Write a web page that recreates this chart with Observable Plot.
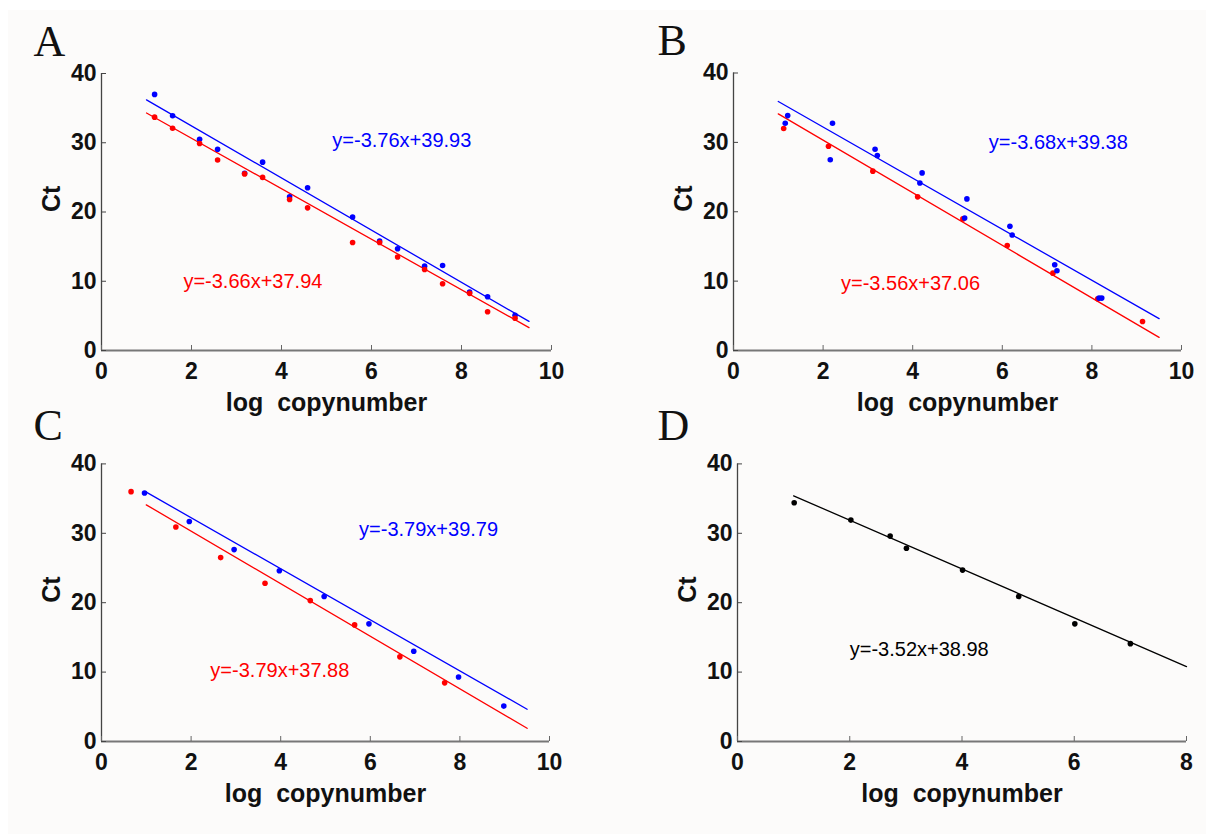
<!DOCTYPE html>
<html><head><meta charset="utf-8">
<script src="https://cdn.jsdelivr.net/npm/d3@7"></script>
<script src="https://cdn.jsdelivr.net/npm/@observablehq/plot@0.6"></script>
<style>
body{margin:0;background:#fff;}
#wrap{position:relative;width:1206px;height:834px;overflow:hidden;}
#bg{position:absolute;left:8px;top:10px;right:0;bottom:0;background:#fcfbfa;}
#wrap svg{position:absolute;overflow:visible;}
#wrap svg text{white-space:pre;}
#wrap svg g[aria-label="x-axis tick label"], #wrap svg g[aria-label="y-axis tick label"]{font-size:23px;font-weight:bold;}
</style></head><body><div id="wrap"><div id="bg"></div></div>
<script>
// ---- tick labels ----
const xTicks10 = [0, 2, 4, 6, 8, 10];
const xTicks8 = [0, 2, 4, 6, 8];
const yTicks = [0, 10, 20, 30, 40];
const panelLetters = ["A", "B", "C", "D"];
const xLabel = "log  copynumber";
const yLabel = "Ct";

// ---- Panel A ----
const aX = [1.18, 1.58, 2.18, 2.58, 3.18, 3.58, 4.18, 4.58, 5.58, 6.18, 6.58, 7.18, 7.58, 8.18, 8.58, 9.19];
const aBlue = [36.98, 33.9, 30.5, 29.07, 25.6, 27.2, 22.2, 23.5, 19.28, 15.8, 14.7, 12.18, 12.28, 8.44, 7.77, 5.1];
const aRed = [33.7, 32.1, 29.9, 27.5, 25.5, 25.0, 21.8, 20.6, 15.6, 15.6, 13.5, 11.7, 9.64, 8.25, 5.6, 4.65];
const aFitBlue = [[1.0, 36.2], [9.5, 4.2]];
const aFitRed = [[1.0, 34.3], [9.5, 3.3]];
const aEqs = [
  {text: "y=-3.76x+39.93", x: 5.13, y: 30.3, color: "blue"},
  {text: "y=-3.66x+37.94", x: 1.82, y: 10.0, color: "red"}
];

// ---- Panel B ----
const bBlueX = [1.155, 1.21, 2.16, 2.21, 3.16, 3.21, 4.16, 4.21, 5.16, 5.21, 6.17, 6.22, 7.17, 7.22, 8.16, 8.22];
const bBlueY = [32.75, 33.86, 27.5, 32.75, 29.0, 28.1, 24.15, 25.6, 19.1, 21.85, 17.9, 16.65, 12.35, 11.5, 7.55, 7.55];
const bRedX = [1.12, 2.12, 3.11, 4.11, 5.12, 6.11, 7.13, 8.13, 9.13];
const bRedY = [32.0, 29.45, 25.85, 22.15, 18.97, 15.13, 11.15, 7.45, 4.18];
const bFitBlue = [[1.0, 35.9], [9.5, 4.6]];
const bFitRed = [[1.0, 34.1], [9.5, 1.9]];
const bEqs = [
  {text: "y=-3.68x+39.38", x: 5.70, y: 30.0, color: "blue"},
  {text: "y=-3.56x+37.06", x: 2.40, y: 9.6, color: "red"}
];

// ---- Panel C ----
const cBlueX = [0.96, 1.96, 2.96, 3.97, 4.97, 5.97, 6.97, 7.97, 8.98];
const cBlueY = [35.8, 31.7, 27.65, 24.6, 20.9, 16.95, 13.0, 9.3, 5.1];
const cRedX = [0.66, 1.66, 2.66, 3.65, 4.66, 5.65, 6.66, 7.66];
const cRedY = [36.0, 30.9, 26.5, 22.8, 20.3, 16.8, 12.2, 8.45];
const cFitBlue = [[0.98, 36.0], [9.5, 4.65]];
const cFitRed = [[1.0, 34.1], [9.5, 1.9]];
const cEqs = [
  {text: "y=-3.79x+39.79", x: 5.75, y: 30.5, color: "blue"},
  {text: "y=-3.79x+37.88", x: 2.43, y: 10.2, color: "red"}
];

// ---- Panel D ----
const dX = [1.01, 2.02, 2.72, 3.01, 4.01, 5.01, 6.01, 7.0];
const dY = [34.4, 31.9, 29.6, 27.85, 24.7, 20.9, 16.95, 14.1];
const dFit = [[1.0, 35.4], [8.0, 10.8]];
const dEqs = [
  {text: "y=-3.52x+38.98", x: 2.0, y: 13.25, color: "black"}
];

const pts = (xs, ys) => xs.map((x, i) => ({x, y: ys[i]}));

function panel(o) {
  const font = "'Liberation Sans', Arial, sans-serif";
  const marks = [
    Plot.ruleY([0], {stroke: "#777", strokeWidth: 1.8}),
    Plot.ruleX([0], {stroke: "#444", strokeWidth: 1.3}),
    Plot.axisX({ticks: o.xTicks, tickSize: 5, dy: -5, fill: "none", stroke: "#666", label: null}),
    Plot.axisY({ticks: yTicks, tickSize: 5, dx: 5, fill: "none", stroke: "#444", label: null}),
    Plot.axisX({ticks: o.xTicks, tickSize: 0, tickPadding: 12, fontSize: 23, fontWeight: "bold", fill: "#111", label: null, fontFamily: font}),
    Plot.axisY({ticks: yTicks, tickSize: 0, tickPadding: 5, fontSize: 23, fontWeight: "bold", fill: "#111", label: null, fontFamily: font}),
  ];
  for (const s of o.lines) marks.push(Plot.line(s.data, {x: d => d[0], y: d => d[1], stroke: s.color, strokeWidth: 1.3}));
  for (const s of o.dots) marks.push(Plot.dot(s.data, {x: "x", y: "y", r: 2.8, fill: s.color, stroke: "none"}));
  marks.push(Plot.text(o.eqs, {x: "x", y: "y", text: "text", fill: d => d.color, textAnchor: "start", fontSize: 20, fontFamily: font}));
  marks.push(Plot.text([yLabel], {frameAnchor: "left", dx: -50, rotate: -90, fontSize: 25, fontWeight: "bold", fill: "#111", fontFamily: font}));
  marks.push(Plot.text([xLabel], {frameAnchor: "bottom", dy: 60, fontSize: 25, fontWeight: "bold", fill: "#111", fontFamily: font}));
  marks.push(Plot.text([o.letter], {frameAnchor: "top-left", dx: o.letterDx, dy: o.letterDy, textAnchor: "start", fontSize: 44, fill: "#111", fontFamily: "'Liberation Serif', 'Times New Roman', serif"}));
  const svg = Plot.plot({
    width: 603, height: 417,
    marginLeft: o.mL, marginRight: o.mR, marginTop: o.mT, marginBottom: o.mB,
    x: {domain: o.xDomain},
    y: {domain: [0, 40]},
    style: {background: "transparent", fontFamily: font, overflow: "visible"},
    marks
  });
  svg.style.left = o.left + "px";
  svg.style.top = o.top + "px";
  document.getElementById("wrap").appendChild(svg);
}

panel({left: 0, top: 0, mL: 101, mR: 52, mT: 73, mB: 67, xDomain: [0, 10], xTicks: xTicks10, letter: panelLetters[0], letterDx: -68, letterDy: -49,
  lines: [{data: aFitBlue, color: "blue"}, {data: aFitRed, color: "red"}],
  dots: [{data: pts(aX, aBlue), color: "blue"}, {data: pts(aX, aRed), color: "red"}], eqs: aEqs});
panel({left: 603, top: 0, mL: 130, mR: 25, mT: 72.5, mB: 67, xDomain: [0, 10], xTicks: xTicks10, letter: panelLetters[1], letterDx: -76, letterDy: -49,
  lines: [{data: bFitBlue, color: "blue"}, {data: bFitRed, color: "red"}],
  dots: [{data: pts(bRedX, bRedY), color: "red"}, {data: pts(bBlueX, bBlueY), color: "blue"}], eqs: bEqs});
panel({left: 0, top: 417, mL: 101, mR: 54, mT: 46.4, mB: 93, xDomain: [0, 10], xTicks: xTicks10, letter: panelLetters[2], letterDx: -68, letterDy: -55,
  lines: [{data: cFitBlue, color: "blue"}, {data: cFitRed, color: "red"}],
  dots: [{data: pts(cBlueX, cBlueY), color: "blue"}, {data: pts(cRedX, cRedY), color: "red"}], eqs: cEqs});
panel({left: 603, top: 417, mL: 134, mR: 20, mT: 46.4, mB: 93, xDomain: [0, 8], xTicks: xTicks8, letter: panelLetters[3], letterDx: -80, letterDy: -55,
  lines: [{data: dFit, color: "black"}],
  dots: [{data: pts(dX, dY), color: "black"}], eqs: dEqs});
</script></body></html>
